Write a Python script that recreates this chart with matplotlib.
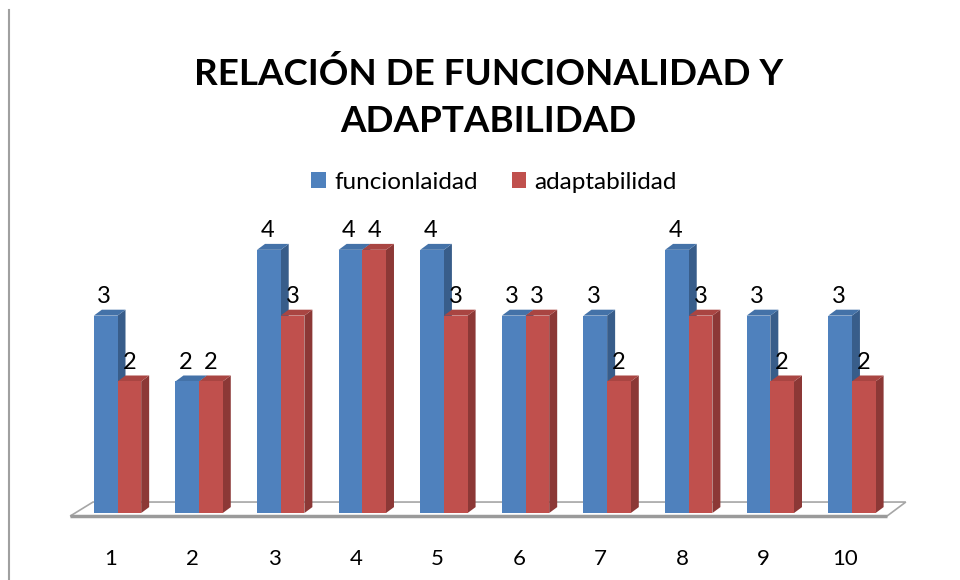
import matplotlib.pyplot as plt
from matplotlib.patches import Polygon, Patch
from matplotlib.lines import Line2D

categorias = ['1', '2', '3', '4', '5', '6', '7', '8', '9', '10']
funcionlaidad = [3, 2, 4, 4, 4, 3, 3, 4, 3, 3]
adaptabilidad = [2, 2, 3, 4, 3, 3, 2, 3, 2, 2]

fuente = 'Lato'
azul = '#4F81BD'
azul_lado = '#385D8A'
azul_techo = '#4472A8'
rojo = '#C0504D'
rojo_lado = '#8C3836'
rojo_techo = '#A94542'

ancho = 0.29
dx = 0.098   # profundidad de las barras
dy = 0.09

fig = plt.figure(figsize=(9.6, 5.8), dpi=100)
fig.patch.set_facecolor('white')
ax = fig.add_axes([60 / 960, 45 / 580, 860 / 960, 335 / 580])
ax.set_xlim(-0.7047, 9.834)
ax.set_ylim(-0.334, 4.757)
for s in ax.spines.values():
    s.set_visible(False)
ax.set_yticks([])

n = len(categorias)
# piso del grafico
piso = Polygon([(-0.58, -0.046), (n - 1 + 0.43, -0.046), (n - 1 + 0.66, 0.167), (-0.30, 0.167)],
               closed=True, facecolor='white', edgecolor='#A6A6A6', linewidth=1.2, zorder=1)
ax.add_patch(piso)
ax.plot([-0.58, n - 1 + 0.43], [-0.046, -0.046], color='#9A9A9A', lw=2.5, zorder=1.5,
        solid_capstyle='butt')


def barra3d(x0, h, frente, lado, techo, z):
    ax.bar(x0, h, width=ancho, align='edge', color=frente, zorder=z + 0.2, linewidth=0)
    ax.add_patch(Polygon([(x0 + ancho, 0), (x0 + ancho + dx, dy), (x0 + ancho + dx, h + dy), (x0 + ancho, h)],
                         closed=True, facecolor=lado, edgecolor='none', zorder=z))
    ax.add_patch(Polygon([(x0, h), (x0 + dx, h + dy), (x0 + ancho + dx, h + dy), (x0 + ancho, h)],
                         closed=True, facecolor=techo, edgecolor='none', zorder=z))


for i in range(n):
    z = 2 + i
    barra3d(i - ancho, funcionlaidad[i], azul, azul_lado, azul_techo, z)
    barra3d(i, adaptabilidad[i], rojo, rojo_lado, rojo_techo, z + 0.5)
    ax.annotate(str(funcionlaidad[i]), (i - ancho / 2 - 0.02, funcionlaidad[i]), xytext=(0, 9),
                textcoords='offset points', ha='center', va='baseline', fontsize=17, family=fuente, zorder=20)
    ax.annotate(str(adaptabilidad[i]), (i + ancho / 2, adaptabilidad[i]), xytext=(0, 9),
                textcoords='offset points', ha='center', va='baseline', fontsize=17, family=fuente, zorder=20)

ax.set_xticks([i - 0.08 for i in range(n)])
ax.set_xticklabels(categorias, fontsize=16, family=fuente)
ax.tick_params(axis='x', length=0, pad=10)

fig.text(0.509, 1 - 74 / 580, 'RELACIÓN DE FUNCIONALIDAD Y', ha='center', va='center',
         fontsize=26.5, fontweight='bold', family=fuente)
fig.text(0.509, 1 - 122 / 580, 'ADAPTABILIDAD', ha='center', va='center',
         fontsize=26.5, fontweight='bold', family=fuente)

manejadores = [Patch(facecolor=azul, label='funcionlaidad'), Patch(facecolor=rojo, label='adaptabilidad')]
fig.legend(handles=manejadores, loc='center', bbox_to_anchor=(494 / 960, 1 - 182 / 580), ncol=2,
           frameon=False, prop={'family': fuente, 'size': 17.5}, handlelength=0.6, handleheight=0.6,
           handletextpad=0.35, columnspacing=1.4)

fig.add_artist(Line2D([9 / 960, 9 / 960], [0, 1 - 10 / 580], color='#A0A0A0', lw=1.5))

plt.savefig('out.png', dpi=100)
